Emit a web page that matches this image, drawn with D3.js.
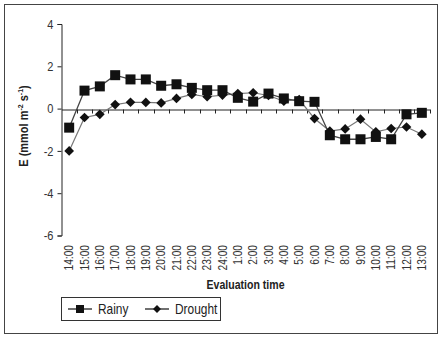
<!DOCTYPE html>
<html><head><meta charset="utf-8">
<script src="https://cdn.jsdelivr.net/npm/d3@7"></script>
<style>body{margin:0;background:#fff}svg{display:block}</style>
</head><body>
<script>
const categories = ["14:00","15:00","16:00","17:00","18:00","19:00","20:00","21:00","22:00","23:00","24:00","1:00","2:00","3:00","4:00","5:00","6:00","7:00","8:00","9:00","10:00","11:00","12:00","13:00"];
const rainy = [-0.9,0.85,1.05,1.58,1.38,1.38,1.08,1.15,0.98,0.87,0.87,0.51,0.33,0.71,0.48,0.35,0.32,-1.26,-1.45,-1.45,-1.34,-1.45,-0.27,-0.2];
const drought = [-2.0,-0.42,-0.27,0.19,0.3,0.29,0.27,0.48,0.67,0.56,0.64,0.71,0.75,0.62,0.35,0.43,-0.47,-1.06,-0.96,-0.5,-1.1,-0.94,-0.87,-1.21];
const yTicks = [4,2,0,-2,-4,-6];

const W=446,H=341;
const svg=d3.select("body").append("svg").attr("width",W).attr("height",H);
const font="'Liberation Sans',Arial,sans-serif";
svg.append("rect").attr("x",4.5).attr("y",4.5).attr("width",433).attr("height",329).attr("fill","#fff").attr("stroke","#444").attr("stroke-width",1);

const x=d3.scaleBand().domain(categories).range([61.5,429.5]).padding(0);
const y=d3.scaleLinear().domain([-6,4]).range([235.5,24]);

// y axis
const ya=svg.append("g").attr("transform","translate(61.5,0)").call(d3.axisLeft(y).tickValues(yTicks).tickSize(4).tickFormat(d=>String(d)));
ya.select(".domain").attr("stroke","#222");
ya.selectAll(".tick line").attr("stroke","#222");
ya.selectAll(".tick text").attr("font-family",font).attr("font-size",13).attr("fill","#333").attr("x",0)
  .attr("transform","translate(-8,0) scale(0.85,1)");

// x axis at y=0
const y0=Math.round(y(0))+0.5;
const xa=svg.append("g").attr("transform",`translate(0,${y0})`).call(d3.axisBottom(x).tickSize(0).tickFormat(""));
xa.select(".domain").attr("stroke","#222");
const bounds=categories.map(c=>x(c)).concat([x.range()[1]]);
svg.append("g").selectAll("line").data(bounds.slice(1)).join("line")
  .attr("x1",d=>Math.round(d)+0.5).attr("x2",d=>Math.round(d)+0.5).attr("y1",y0).attr("y2",y0+4).attr("stroke","#222");

// x tick labels rotated
svg.append("g").selectAll("text").data(categories).join("text")
  .attr("transform",d=>`translate(${x(d)+x.bandwidth()/2+4},245) rotate(-90) scale(0.85,1)`)
  .attr("text-anchor","end").attr("font-family",font).attr("font-size",12).attr("fill","#333").text(d=>d);

const cx=d=>x(d)+x.bandwidth()/2;
const line=d3.line().x((d,i)=>cx(categories[i])).y(d=>y(d));
svg.append("path").datum(drought).attr("d",line).attr("fill","none").attr("stroke","#777").attr("stroke-width",1.2);
svg.append("path").datum(rainy).attr("d",line).attr("fill","none").attr("stroke","#444").attr("stroke-width",1.3);

svg.append("g").selectAll("path").data(drought).join("path")
  .attr("d",d3.symbol(d3.symbolDiamond2,60)).attr("transform",(d,i)=>`translate(${cx(categories[i])},${y(d)})`).attr("fill","#111");
svg.append("g").selectAll("rect").data(rainy).join("rect")
  .attr("x",(d,i)=>cx(categories[i])-5).attr("y",d=>y(d)-5).attr("width",10).attr("height",10).attr("fill","#111");

// axis titles
svg.append("text").attr("transform","translate(245.5,289) scale(0.88,1)").attr("text-anchor","middle").attr("font-family",font).attr("font-weight","bold").attr("font-size",12).attr("fill","#222").text("Evaluation time");
const yt=svg.append("text").attr("transform","translate(28,126) rotate(-90) scale(0.88,1)").attr("text-anchor","middle").attr("font-family",font).attr("font-weight","bold").attr("font-size",12.5).attr("fill","#222");
yt.append("tspan").text("E (mmol m");
yt.append("tspan").attr("font-size",8).attr("dy",-5).text("-2");
yt.append("tspan").attr("dy",5).text(" s");
yt.append("tspan").attr("font-size",8).attr("dy",-5).text("-1");
yt.append("tspan").attr("dy",5).text(")");

// legend
const lg=svg.append("g");
lg.append("rect").attr("x",61.5).attr("y",297.5).attr("width",159).attr("height",23).attr("fill","#fff").attr("stroke","#333");
lg.append("line").attr("x1",68).attr("x2",92).attr("y1",309).attr("y2",309).attr("stroke","#222").attr("stroke-width",1.3);
lg.append("rect").attr("x",76).attr("y",305).attr("width",8).attr("height",8).attr("fill","#111");
lg.append("text").attr("transform","translate(98,314) scale(0.85,1)").attr("font-family",font).attr("font-size",14).attr("fill","#222").text("Rainy");
lg.append("line").attr("x1",145).attr("x2",169).attr("y1",309).attr("y2",309).attr("stroke","#222").attr("stroke-width",1.3);
lg.append("path").attr("d",d3.symbol(d3.symbolDiamond2,40)).attr("transform","translate(157,309)").attr("fill","#111");
lg.append("text").attr("transform","translate(175,314) scale(0.85,1)").attr("font-family",font).attr("font-size",14).attr("fill","#222").text("Drought");
</script>
</body></html>
